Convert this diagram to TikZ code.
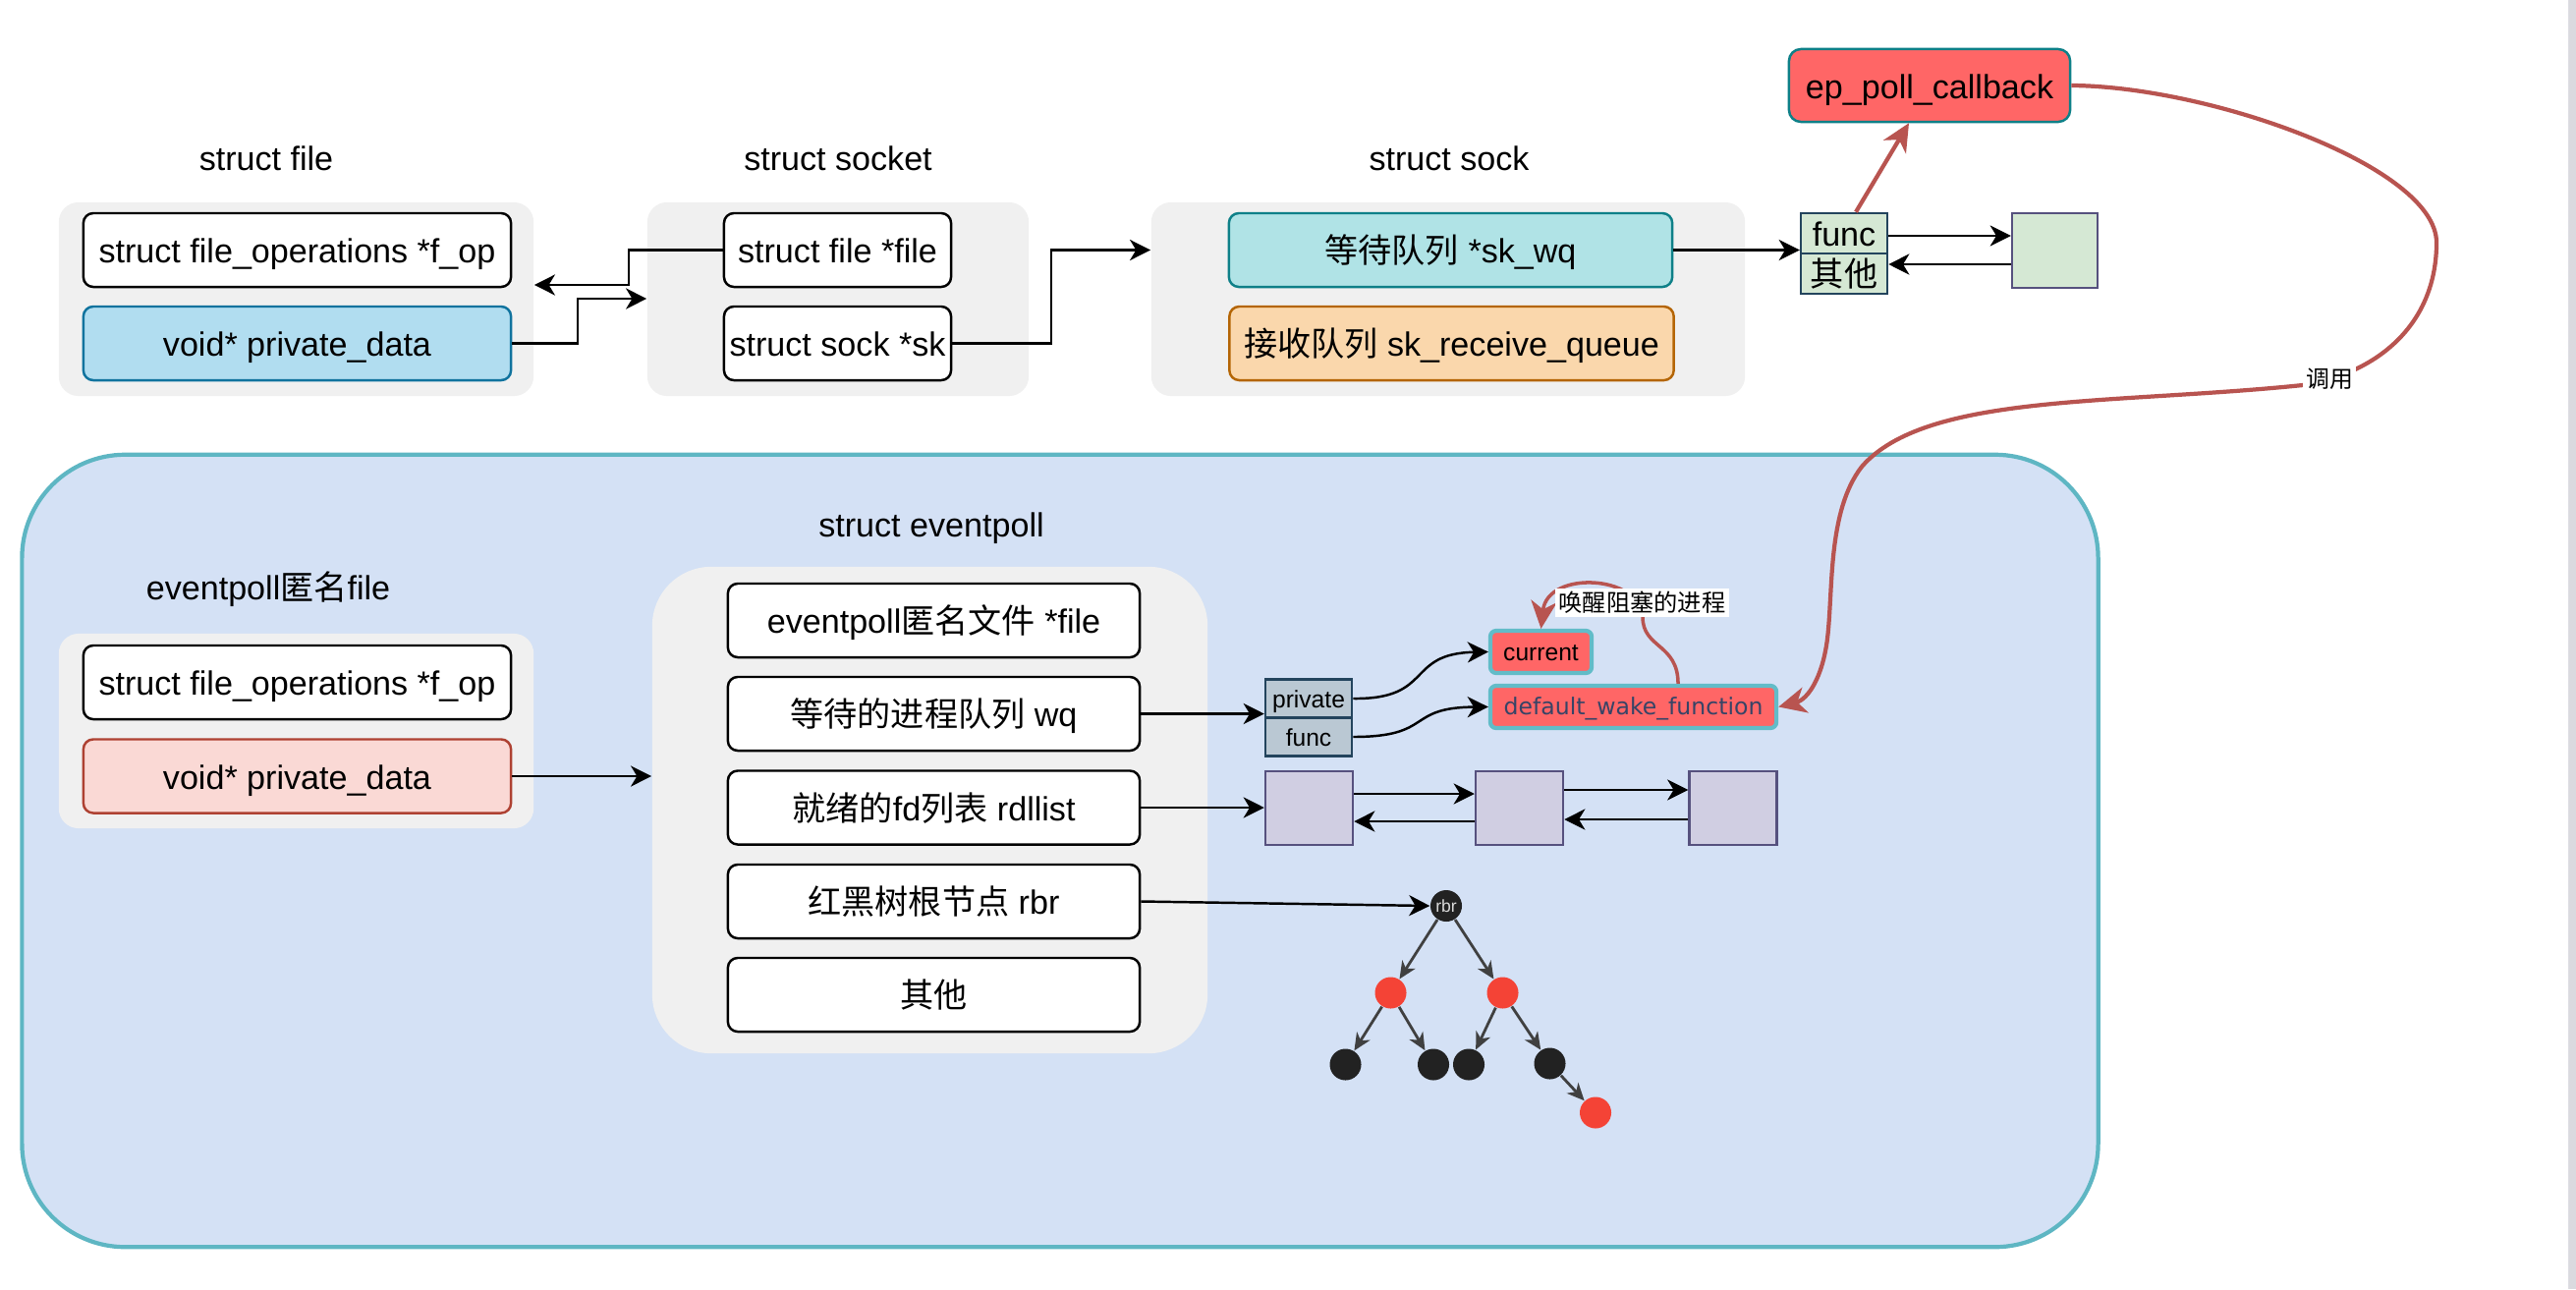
\documentclass[tikz,border=0pt]{standalone}
\usepackage{fontspec}
\setmainfont{Liberation Sans}
\newfontfamily\cjk{Noto Sans CJK SC}
\newfontfamily\dvs{DejaVu Sans}
\usetikzlibrary{arrows.meta,calc}

\definecolor{grpgray}{HTML}{F0F0F0}
\definecolor{regionfill}{HTML}{D4E1F5}
\definecolor{regionline}{HTML}{5EB6C3}
\definecolor{pdblue}{HTML}{B1DDF0}
\definecolor{pdblueline}{HTML}{10739E}
\definecolor{wqfill}{HTML}{B0E3E6}
\definecolor{wqline}{HTML}{0E8088}
\definecolor{rqfill}{HTML}{FAD7AC}
\definecolor{rqline}{HTML}{B46504}
\definecolor{greenfill}{HTML}{D5E8D4}
\definecolor{cellline}{HTML}{23445D}
\definecolor{purpline}{HTML}{56517E}
\definecolor{lavfill}{HTML}{D0CEE2}
\definecolor{redfill}{HTML}{FF6666}
\definecolor{redcurve}{HTML}{B85450}
\definecolor{pinkfill}{HTML}{FAD9D5}
\definecolor{pinkline}{HTML}{AE4132}
\definecolor{slatefill}{HTML}{BAC8D3}
\definecolor{tealthick}{HTML}{62BCC8}
\definecolor{treeblack}{HTML}{222222}
\definecolor{treered}{HTML}{F44336}
\definecolor{treeedge}{HTML}{404040}
\definecolor{dwftext}{HTML}{374466}
\definecolor{edgegray}{HTML}{DADADF}

\tikzset{
  txt/.style={font=\fontsize{9.7}{11}\selectfont, inner sep=0pt},
  bigtext/.style={font=\fontsize{9.7}{11}\selectfont, text height=8.2pt, text depth=0.8pt},
  smalltext/.style={font=\fontsize{7}{8}\selectfont, text height=5.9pt, text depth=0.6pt},
  grp/.style={fill=grpgray, rounded corners=0.2cm, inner sep=0pt},
  fld/.style={draw=black, fill=white, line width=0.7pt, rounded corners=0.1cm, inner sep=0pt, minimum height=0.75cm, bigtext},
  conn/.style={line width=0.7pt, -{Stealth[length=6pt,width=6pt,inset=1.8pt]}},
  redconn/.style={draw=redcurve, line width=1.2pt, -{Stealth[length=8pt,width=7.5pt,inset=2.4pt]}},
  cellbox/.style={draw=cellline, line width=0.7pt, inner sep=0pt},
  sqbox/.style={draw=purpline, fill=lavfill, line width=0.7pt, inner sep=0pt, minimum width=0.89cm, minimum height=0.75cm},
  tnode/.style={circle, inner sep=0pt, minimum size=0.32cm},
  tedge/.style={draw=treeedge, line width=0.8pt, -{Stealth[length=5pt,width=4.5pt,inset=1.5pt]}},
  hot/.style={fill=redfill, draw=tealthick, line width=1.2pt, rounded corners=0.06cm, inner sep=0pt, minimum height=0.43cm}
}

\begin{document}
\begin{tikzpicture}[x=0.01cm,y=-0.01cm]
\useasboundingbox (0,0) rectangle (2622,1312);
\fill[edgegray] (2590,0) rectangle (2622,1312);
\fill[white, rounded corners=0.15cm] (-40,-40) rectangle (2614,1352);

% ---------- top ----------
\node[txt] (lfile) at (271,161) {struct file};
\node[txt] (lsocket) at (853,161) {struct socket};
\node[txt] (lsock) at (1475,161) {struct sock};

\node[grp, minimum width=4.83cm, minimum height=1.97cm] (gfile) at (301.5,304.5) {};
\node[grp, minimum width=3.88cm, minimum height=1.97cm] (gsocket) at (853,304.5) {};
\node[grp, minimum width=6.04cm, minimum height=1.97cm] (gsock) at (1474,304.5) {};

\node[fld, minimum width=4.35cm] (fop) at (302.5,254.5) {struct file\_operations *f\_op};
\node[fld, fill=pdblue, draw=pdblueline, minimum width=4.35cm] (pd) at (302.5,349.5) {void* private\_data};
\node[fld, minimum width=2.31cm] (sfile) at (852.5,254.5) {struct file *file};
\node[fld, minimum width=2.31cm] (ssk) at (852.5,349.5) {struct sock *sk};
\node[fld, fill=wqfill, draw=wqline, minimum width=4.51cm] (skwq) at (1476.5,254.5) {{\cjk 等待队列} *sk\_wq};
\node[fld, fill=rqfill, draw=rqline, minimum width=4.52cm] (rq) at (1477.5,349.5) {{\cjk 接收队列} sk\_receive\_queue};

\node[cellbox, fill=greenfill, minimum width=0.88cm, minimum height=0.41cm, bigtext] (func) at (1877,237.5) {func};
\node[cellbox, fill=greenfill, minimum width=0.88cm, minimum height=0.41cm, bigtext] (other) at (1877,278.5) {\cjk 其他};
\node[sqbox, fill=greenfill, minimum width=0.87cm, minimum height=0.76cm] (gsq) at (2091.5,255) {};
\node[fld, fill=redfill, draw=wqline, minimum width=2.86cm, minimum height=0.74cm, rounded corners=0.12cm] (epcb) at (1964,87) {ep\_poll\_callback};

\coordinate (j1) at (640,290);
\draw[conn] (sfile.west) -| (j1) -- (j1 -| gfile.east);
\coordinate (j2) at (588,304);
\draw[conn] (pd.east) -| (j2) -- (j2 -| gsocket.west);
\coordinate (j3) at (1070,254.5);
\draw[conn] (ssk.east) -| (j3) -- (j3 -| gsock.west);
\draw[conn] (skwq.east) -- (skwq.east -| func.west);
\coordinate (ob0) at ([yshift=-0.025cm]func.east);
\draw[conn] (ob0) -- (ob0 -| gsq.west);
\coordinate (ob1) at ([yshift=-0.14cm]gsq.west);
\draw[conn] (ob1) -- (ob1 -| other.east);
\draw[redconn] ([xshift=0.12cm]func.north) -- ([xshift=-0.21cm]epcb.south);

% ---------- bottom region ----------
\node[draw=regionline, fill=regionfill, line width=1.2pt, rounded corners=1.05cm, minimum width=21.12cm, minimum height=8.06cm, inner sep=0pt] (region) at (1079,866) {};

\node[txt] (lep) at (948,538) {struct eventpoll};
\node[txt] (lanon) at (273,600) {eventpoll{\cjk 匿名}file};

\node[grp, minimum width=4.83cm, minimum height=1.98cm] (ganon) at (301.5,744) {};
\node[grp, rounded corners=0.6cm, minimum width=5.65cm, minimum height=4.95cm] (gep) at (946.5,824.5) {};

\node[fld, minimum width=4.35cm] (fop2) at (302.5,694.5) {struct file\_operations *f\_op};
\node[fld, fill=pinkfill, draw=pinkline, minimum width=4.35cm] (pd2) at (302.5,790) {void* private\_data};

\node[fld, minimum width=4.19cm] (row1) at (950.5,631.5) {eventpoll{\cjk 匿名文件} *file};
\node[fld, minimum width=4.19cm] (row2) at (950.5,726.5) {{\cjk 等待的进程队列} wq};
\node[fld, minimum width=4.19cm] (row3) at (950.5,822) {{\cjk 就绪的}fd{\cjk 列表} rdllist};
\node[fld, minimum width=4.19cm] (row4) at (950.5,917.5) {{\cjk 红黑树根节点} rbr};
\node[fld, minimum width=4.19cm] (row5) at (950.5,1012.5) {{\cjk 其他}};

\draw[conn] (pd2.east) -- (pd2.east -| gep.west);

\node[cellbox, fill=slatefill, minimum width=0.88cm, minimum height=0.39cm, smalltext] (priv) at (1332,711) {private};
\node[cellbox, fill=slatefill, minimum width=0.88cm, minimum height=0.39cm, smalltext] (wfunc) at (1332,750) {func};
\draw[conn] (row2.east) -- (row2.east -| priv.west);

\node[hot, minimum width=1.03cm, smalltext] (cur) at (1568.5,663.5) {current};
\node[hot, minimum width=2.91cm, font=\dvs\fontsize{6.7}{8}\selectfont, text height=5.4pt, text depth=0.6pt, text=dwftext] (dwf) at (1662.5,719.5) {default\_wake\_function};

\draw[conn] (priv.east) .. controls (1460,712) and (1430,665) .. (cur.west);
\draw[conn] (wfunc.east) .. controls (1460,750) and (1430,720) .. (dwf.west);

\draw[redconn, line width=1pt] ([xshift=0.455cm]dwf.north) .. controls (1708,655) and (1672,660) .. (1672,628) .. controls (1670,585) and (1575,580) .. (cur.north);
\node[fill=white, inner sep=1pt, font=\cjk\fontsize{6.9}{8}\selectfont] (wake) at (1671.5,613.5) {唤醒阻塞的进程};

% ready list
\node[sqbox] (s1) at (1332.5,822.5) {};
\node[sqbox] (s2) at (1546.5,822.5) {};
\node[sqbox] (s3) at (1764,822.5) {};
\draw[conn] (row3.east) -- (row3.east -| s1.west);
\coordinate (a1) at ([yshift=0.145cm]s1.east);
\draw[conn] (a1) -- (a1 -| s2.west);
\coordinate (a2) at ([yshift=-0.135cm]s2.west);
\draw[conn] (a2) -- (a2 -| s1.east);
\coordinate (a3) at ([yshift=0.185cm]s2.east);
\draw[conn] (a3) -- (a3 -| s3.west);
\coordinate (a4) at ([yshift=-0.115cm]s3.west);
\draw[conn] (a4) -- (a4 -| s2.east);

% red-black tree
\node[tnode, fill=treeblack, text=white!85!black, font=\fontsize{5}{6}\selectfont] (rbr) at (1472,922) {rbr};
\node[tnode, fill=treered] (r1) at (1415.5,1010.5) {};
\node[tnode, fill=treered] (r2) at (1529.5,1010.5) {};
\node[tnode, fill=treeblack] (k1) at (1369.5,1083.5) {};
\node[tnode, fill=treeblack] (k2) at (1459,1083.5) {};
\node[tnode, fill=treeblack] (k3) at (1495,1083.5) {};
\node[tnode, fill=treeblack] (k4) at (1577.5,1082.5) {};
\node[tnode, fill=treered] (r3) at (1624,1132.5) {};
\draw[conn] (row4.east) -- (rbr.west);
\draw[tedge] (rbr) -- (r1);
\draw[tedge] (rbr) -- (r2);
\draw[tedge] (r1) -- (k1);
\draw[tedge] (r1) -- (k2);
\draw[tedge] (r2) -- (k3);
\draw[tedge] (r2) -- (k4);
\draw[tedge] (k4) -- (r3);

% big callback curve
\draw[redconn] (epcb.east) .. controls (2250,88) and (2480,170) .. (2480,247)
  .. controls (2480,330) and (2420,380) .. (2344,392)
  .. controls (2150,412) and (1960,400) .. (1895,475)
  .. controls (1860,520) and (1866,600) .. (1860,650)
  .. controls (1855,690) and (1840,712) .. (dwf.east);
\node[fill=white, inner sep=1pt, font=\cjk\fontsize{6.8}{8}\selectfont] (call) at (2371,386) {调用};
\end{tikzpicture}
\end{document}
